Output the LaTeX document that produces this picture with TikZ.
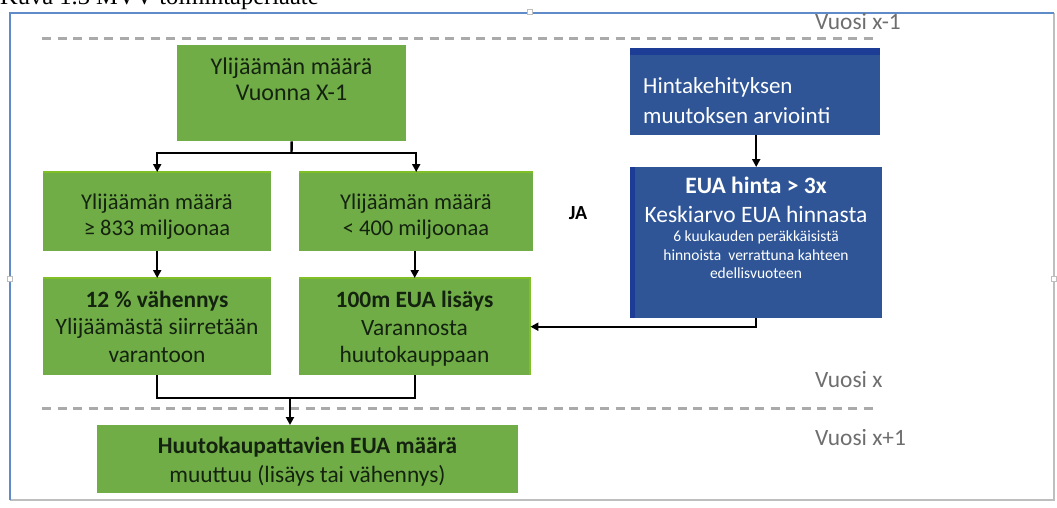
\documentclass[tikz,border=0pt]{standalone}
\usepackage{fontspec}
\setmainfont{Carlito}
\newfontfamily\capfont{Liberation Serif}
\usetikzlibrary{arrows.meta}
\definecolor{gfill}{RGB}{112,173,71}
\definecolor{gtop}{RGB}{128,192,38}
\definecolor{bfill}{RGB}{47,85,151}
\definecolor{bdark}{RGB}{28,60,150}
\definecolor{frameblue}{RGB}{95,140,200}
\definecolor{framegray}{RGB}{190,190,190}
\definecolor{dashgray}{RGB}{170,170,170}
\definecolor{labgray}{RGB}{110,110,110}
\definecolor{gtext}{RGB}{20,35,15}
\tikzset{
  gbox/.style={fill=gfill, draw=none, inner sep=0pt, anchor=north west},
  bbox/.style={fill=bfill, draw=none, inner sep=0pt, anchor=north west},
  gtxt/.style={text=gtext, align=center, inner sep=0pt},
  btxt/.style={text=white, inner sep=0pt},
  yearlab/.style={text=labgray, anchor=west, inner sep=0pt, font=\fontsize{23.4}{26}\selectfont},
  yeardash/.style={draw=dashgray, line width=3pt, dash pattern=on 9pt off 6.5pt},
  conn/.style={draw=black, line width=2.4pt},
  arr/.style={conn, -{Triangle[length=8pt,width=8pt]}},
  edgelime/.style={draw=gtop, line width=2pt},
}
\begin{document}
\begin{tikzpicture}[x=1pt,y=-1pt]
\useasboundingbox (0,0) rectangle (1057,507);
% caption (cut off at top)
\node[anchor=base west, inner sep=0pt, font=\capfont\fontsize{24.5}{28}\selectfont] (cap) at (0,4.5) {Kuva 1.3 MVV toimintaperiaate};
% frame
\draw[framegray, line width=1.5pt] (1054,13) -- (1054,500) -- (10,500);
\draw[frameblue, line width=1.8pt] (10,500) -- (10,13) -- (1054,13);
\node[draw=framegray, fill=white, minimum size=5pt, inner sep=0pt, line width=0.8pt] (h1) at (530,12) {};
\node[draw=framegray, fill=white, minimum size=5pt, inner sep=0pt, line width=0.8pt] (h2) at (1054,279) {};
\node[draw=framegray, fill=white, minimum size=5pt, inner sep=0pt, line width=0.8pt] (h3) at (10,279) {};
% year separators
\draw[yeardash] (42,38) -- (877,38);
\draw[yeardash] (42,408) -- (877,408);
\node[yearlab] (y1) at (815,22) {Vuosi x-1};
\node[yearlab] (y2) at (815,380) {Vuosi x};
\node[yearlab] (y3) at (815,438) {Vuosi x+1};
% green boxes
\node[gbox, minimum width=229pt, minimum height=96pt] (top) at (177,45) {};
\node[gtxt, font=\fontsize{24}{26.7}\selectfont] (toptxt) at (291.5,79.4) {Ylijäämän määrä\\Vuonna X-1};
\node[gbox, minimum width=228pt, minimum height=79pt] (l2) at (43,172) {};
\draw[edgelime] (l2.north west) -- (l2.north east);
\node[gtxt, font=\fontsize{22.5}{26}\selectfont] (l2txt) at (157,216.8) {Ylijäämän määrä\\≥ 833 miljoonaa};
\node[gbox, minimum width=234pt, minimum height=79pt] (r2) at (299,172) {};
\draw[edgelime] (r2.north west) -- (r2.north east);
\node[gtxt, font=\fontsize{22.5}{26}\selectfont] (r2txt) at (416,216.8) {Ylijäämän määrä\\< 400 miljoonaa};
\node[gbox, minimum width=228pt, minimum height=97pt] (l3) at (43,278) {};
\draw[edgelime] (l3.north west) -- (l3.north east);
\node[gtxt, font=\fontsize{23.4}{27.5}\selectfont] (l3txt) at (157,326.8) {\textbf{12 \% vähennys}\\Ylijäämästä siirretään\\varantoon};
\node[gbox, minimum width=231pt, minimum height=97pt] (r3) at (299,278) {};
\draw[edgelime] (r3.north west) -- (r3.north east) -- (r3.south east);
\node[gtxt, font=\fontsize{23.4}{27.5}\selectfont] (r3txt) at (414.5,329.1) {\textbf{100m EUA lisäys}\\Varannosta\\huutokauppaan};
\node[gbox, minimum width=421pt, minimum height=68pt] (bot) at (97,425) {};
\node[gtxt, font=\fontsize{23.4}{29}\selectfont] (bottxt) at (307.5,461.7) {\textbf{Huutokaupattavien EUA määrä}\\muuttuu (lisäys tai vähennys)};
% blue boxes
\node[bbox, minimum width=250pt, minimum height=80pt] (b1) at (630,55) {};
\fill[bdark] (b1.north west) rectangle ([yshift=7pt]b1.north east);
\node[btxt, anchor=west, align=left, font=\fontsize{23}{30}\selectfont] (b1txt) at (643,100.4) {Hintakehityksen\\muutoksen arviointi};
\node[bbox, minimum width=252pt, minimum height=151pt] (b2) at (630,167) {};
\fill[bdark] (b2.north west) rectangle ([xshift=5pt]b2.south west);
\node[btxt, align=center, font=\fontsize{23.5}{29}\selectfont] (b2txt) at (756,200) {\textbf{EUA hinta > 3x}\\Keskiarvo EUA hinnasta};
\node[btxt, align=center, font=\fontsize{15.5}{18.5}\selectfont] (b2small) at (756,255) {6 kuukauden peräkkäisistä\\hinnoista\ \ verrattuna kahteen\\edellisvuoteen};
% JA
\node[inner sep=0pt, font=\bfseries\fontsize{20}{22}\selectfont] (ja) at (578,213) {JA};
% connectors
\coordinate (j1) at (291.5,153);
\coordinate (j2) at (290,398);
\draw[conn] (top.south) -- (j1);
\draw[arr] (j1) -| (l2.north);
\draw[arr] (j1) -| (r2.north);
\draw[arr] (l2.south) -- (l3.north);
\draw[arr] (r2.south -| r3.north) -- (r3.north);
\draw[conn] (l3.south) |- (j2) -| (r3.south);
\draw[arr] (j2) -- (j2 |- bot.north);
\draw[arr] (b1.south -| b2.north) -- (b2.north);
\draw[arr] (b2.south) |- (r3.east);
\end{tikzpicture}
\end{document}
